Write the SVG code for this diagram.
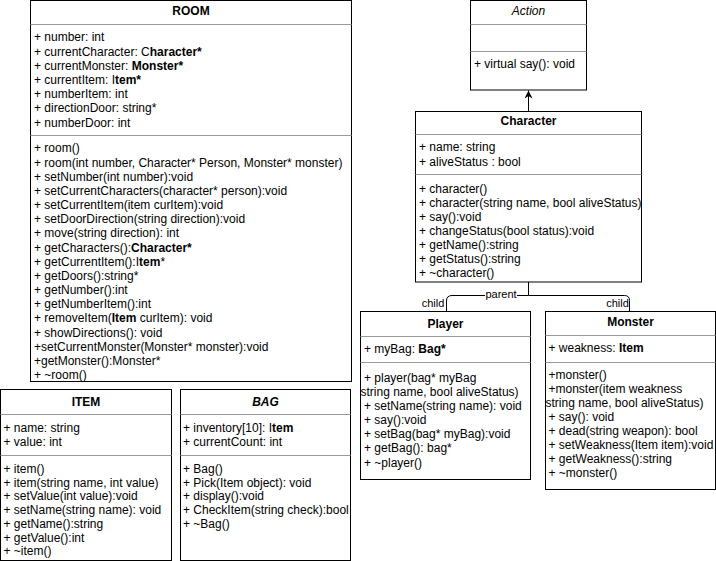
<svg xmlns="http://www.w3.org/2000/svg" width="716" height="561" viewBox="0 0 716 561">
<style>
text{font-family:"Liberation Sans",Arial,Helvetica,sans-serif;font-size:12px;fill:#000}
.t{font-weight:bold;text-anchor:middle}
.it{font-style:italic;text-anchor:middle}
.bi{font-weight:bold;font-style:italic;text-anchor:middle}
.b{font-weight:bold}
.box{fill:#fff;stroke:#000;stroke-width:1}
.div{stroke:#999;stroke-width:1}
.lbl{font-size:11px;text-anchor:middle}
.edge{fill:none;stroke:#000;stroke-width:1}
</style>
<defs>
<marker id="arr" viewBox="0 0 10 10" refX="10" refY="5" markerWidth="8" markerHeight="8" markerUnits="userSpaceOnUse" orient="auto">
<path d="M0 0 L10 5 L0 10 L3 5 Z" fill="#000"/>
</marker>
</defs>
<rect width="716" height="561" fill="#fff"/>

<g id="connectors">
<line class="edge" x1="528.5" y1="111" x2="528.5" y2="90.5" marker-end="url(#arr)"/>
<path class="edge" d="M528.5 282 V295.5 H452 Q446.5 295.5 446.5 301 V311"/>
<path class="edge" d="M528.5 295.5 H624.5 Q629.5 295.5 629.5 300.5 V311"/>
<rect x="485" y="289" width="32" height="11" fill="#fff"/>
<text class="lbl" x="501" y="298">parent</text>
<text class="lbl" x="433" y="307">child</text>
<text class="lbl" x="617.5" y="307">child</text>
</g>

<g id="room">
<rect class="box" x="30.5" y="0.5" width="321" height="381"/>
<line class="div" x1="30.5" y1="24.5" x2="351.5" y2="24.5"/>
<line class="div" x1="30.5" y1="135.5" x2="351.5" y2="135.5"/>
<text class="t" x="191" y="15">ROOM</text>
<text x="34" y="41.3">+ number: int</text>
<text x="34" y="55.5">+ currentCharacter: C<tspan class="b">haracter*</tspan></text>
<text x="34" y="69.7">+ currentMonster: <tspan class="b">Monster*</tspan></text>
<text x="34" y="84">+ currentItem: I<tspan class="b">tem*</tspan></text>
<text x="34" y="98.2">+ numberItem: int</text>
<text x="34" y="112.4">+ directionDoor: string*</text>
<text x="34" y="126.7">+ numberDoor: int</text>
<text x="34" y="152.3">+ room()</text>
<text x="34" y="166.5">+ room(int number, Character* Person, Monster* monster)</text>
<text x="34" y="180.6">+ setNumber(int number):void</text>
<text x="34" y="194.8">+ setCurrentCharacters(character* person):void</text>
<text x="34" y="209">+ setCurrentItem(item curItem):void</text>
<text x="34" y="223.2">+ setDoorDirection(string direction):void</text>
<text x="34" y="237.3">+ move(string direction): int</text>
<text x="34" y="251.5">+ getCharacters():<tspan class="b">Character*</tspan></text>
<text x="34" y="265.7">+ getCurrentItem():I<tspan class="b">tem</tspan>*</text>
<text x="34" y="279.8">+ getDoors():string*</text>
<text x="34" y="294">+ getNumber():int</text>
<text x="34" y="308.2">+ getNumberItem():int</text>
<text x="34" y="322.3">+ removeItem(<tspan class="b">Item</tspan> curItem): void</text>
<text x="34" y="336.5">+ showDirections(): void</text>
<text x="34" y="350.7">+setCurrentMonster(Monster* monster):void</text>
<text x="34" y="364.8">+getMonster():Monster*</text>
<text x="34" y="379">+ ~room()</text>
</g>

<g id="item">
<rect class="box" x="0.5" y="389.5" width="171" height="171"/>
<line class="div" x1="0.5" y1="414.5" x2="171.5" y2="414.5"/>
<line class="div" x1="0.5" y1="455.5" x2="171.5" y2="455.5"/>
<text class="t" x="86" y="406">ITEM</text>
<text x="3.5" y="432">+ name: string</text>
<text x="3.5" y="446">+ value: int</text>
<text x="3.5" y="473">+ item()</text>
<text x="3.5" y="486.7">+ item(string name, int value)</text>
<text x="3.5" y="500.4">+ setValue(int value):void</text>
<text x="3.5" y="514.1">+ setName(string name): void</text>
<text x="3.5" y="527.8">+ getName():string</text>
<text x="3.5" y="541.5">+ getValue():int</text>
<text x="3.5" y="555.2">+ ~item()</text>
</g>

<g id="bag">
<rect class="box" x="180.5" y="389.5" width="170" height="171"/>
<line class="div" x1="180.5" y1="414.5" x2="350.5" y2="414.5"/>
<line class="div" x1="180.5" y1="455.5" x2="350.5" y2="455.5"/>
<text class="bi" x="265.5" y="406">BAG</text>
<text x="183" y="432">+ inventory[10]: I<tspan class="b">tem</tspan></text>
<text x="183" y="446">+ currentCount: int</text>
<text x="183" y="473">+ Bag()</text>
<text x="183" y="486.7">+ Pick(Item object): void</text>
<text x="183" y="500.4">+ display():void</text>
<text x="183" y="514.1">+ CheckItem(string check):bool</text>
<text x="183" y="527.8">+ ~Bag()</text>
</g>

<g id="action">
<rect class="box" x="470.5" y="0.5" width="116" height="89.5"/>
<line class="div" x1="470.5" y1="24.5" x2="586.5" y2="24.5"/>
<line class="div" x1="470.5" y1="51.5" x2="586.5" y2="51.5"/>
<text class="it" x="528.5" y="15">Action</text>
<text x="474" y="68">+ virtual say(): void</text>
</g>

<g id="character">
<rect class="box" x="415.5" y="111.5" width="226" height="170.5"/>
<line class="div" x1="415.5" y1="134.5" x2="641.5" y2="134.5"/>
<line class="div" x1="415.5" y1="174.5" x2="641.5" y2="174.5"/>
<text class="t" x="528.5" y="125">Character</text>
<text x="419" y="151">+ name: string</text>
<text x="419" y="166">+ aliveStatus : bool</text>
<text x="419" y="193">+ character()</text>
<text x="419" y="207">+ character(string name, bool aliveStatus)</text>
<text x="419" y="221.1">+ say():void</text>
<text x="419" y="235.2">+ changeStatus(bool status):void</text>
<text x="419" y="249.2">+ getName():string</text>
<text x="419" y="263.3">+ getStatus():string</text>
<text x="419" y="277.3">+ ~character()</text>
</g>

<g id="player">
<rect class="box" x="360.5" y="311.5" width="170" height="168"/>
<line class="div" x1="360.5" y1="336.5" x2="530.5" y2="336.5"/>
<line class="div" x1="360.5" y1="362.5" x2="530.5" y2="362.5"/>
<text class="t" x="445.5" y="327.5">Player</text>
<text x="364" y="353">+ myBag: <tspan class="b">Bag*</tspan></text>
<text x="364" y="382">+ player(bag* myBag</text>
<text x="360.5" y="396">string name, bool aliveStatus)</text>
<text x="364" y="410.1">+ setName(string name): void</text>
<text x="364" y="424.2">+ say():void</text>
<text x="364" y="438.3">+ setBag(bag* myBag):void</text>
<text x="364" y="452.4">+ getBag(): bag*</text>
<text x="364" y="466.5">+ ~player()</text>
</g>

<g id="monster">
<rect class="box" x="545.5" y="311.5" width="170" height="178"/>
<line class="div" x1="545.5" y1="335.5" x2="715.5" y2="335.5"/>
<line class="div" x1="545.5" y1="362.5" x2="715.5" y2="362.5"/>
<text class="t" x="630.5" y="325.5">Monster</text>
<text x="548.5" y="352">+ weakness: <tspan class="b">Item</tspan></text>
<text x="548.5" y="379">+monster()</text>
<text x="548.5" y="393">+monster(item weakness</text>
<text x="545.5" y="407">string name, bool aliveStatus)</text>
<text x="548.5" y="421">+ say(): void</text>
<text x="548.5" y="435">+ dead(string weapon): bool</text>
<text x="548.5" y="449">+ setWeakness(Item item):void</text>
<text x="548.5" y="463">+ getWeakness():string</text>
<text x="548.5" y="477.3">+ ~monster()</text>
</g>
</svg>
